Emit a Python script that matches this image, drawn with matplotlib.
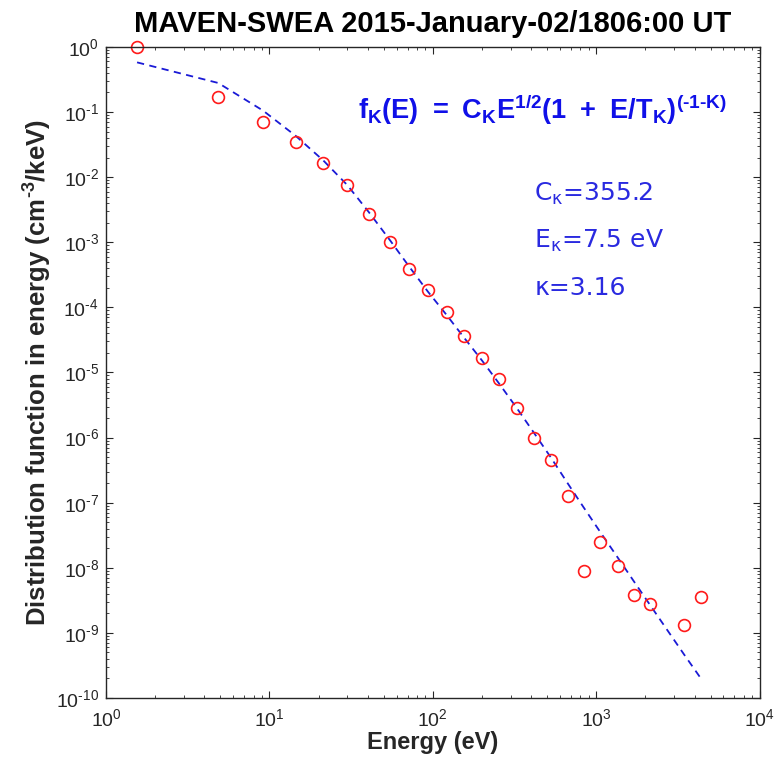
import numpy as np
import matplotlib
matplotlib.use('Agg')
from matplotlib import pyplot as plt
from matplotlib.ticker import LogLocator, NullFormatter, FuncFormatter

plt.rcParams['font.family'] = 'Liberation Sans'
plt.rcParams['axes.unicode_minus'] = False

# measured SWEA spectrum (red circles)
energy_ev = [1.55, 4.86, 9.16, 14.5, 21.4, 29.9, 40.6, 54.6, 71.8, 93.2, 121.6, 155.6,
             199, 255, 326, 414, 526, 667, 836, 1061, 1349, 1713, 2129, 3457, 4364]
dist_func = [1.0, 0.171, 0.0716, 0.0343, 0.0167, 0.00748, 0.00272, 0.00101, 3.93e-4,
             1.82e-4, 8.43e-5, 3.64e-5, 1.69e-5, 8.07e-6, 2.84e-6, 1.0e-6, 4.55e-7,
             1.26e-7, 9.0e-9, 2.52e-8, 1.07e-8, 3.77e-9, 2.77e-9, 1.30e-9, 3.52e-9]

# kappa fit (blue dashed line) read at the same energies
fit_vals = [0.58, 0.28, 0.105, 0.043, 0.018, 0.0076, 0.0029, 0.00108, 4.2e-4, 1.75e-4,
            7.6e-5, 3.4e-5, 1.55e-5, 6.7e-6, 2.85e-6, 1.2e-6, 5.0e-7, 2.0e-7, 8.5e-8,
            3.5e-8, 1.45e-8, 6.0e-9, 2.7e-9, 4.6e-10, 2.0e-10]

title = 'MAVEN-SWEA 2015-January-02/1806:00 UT'
params = [r'C$_{\mathregular{κ}}$=355.2', r'E$_{\mathregular{κ}}$=7.5 eV', 'κ=3.16']


def pow10(v, pos):
    e = int(round(np.log10(v)))
    return r'$\mathregular{10^{%s}}$' % str(e).replace('-', '‐')


txt = '#262626'
fig = plt.figure(figsize=(7.82, 7.60), dpi=100)
ax = fig.add_axes([0.1355, 0.0816, 0.836, 0.8566])

ax.plot(energy_ev, fit_vals, '--', color='#1a1ad6', lw=1.3, dashes=(4, 3))
ax.plot(energy_ev, dist_func, 'o', mfc='none', mec='#ff1a1a', mew=1.2, ms=8.5, clip_on=False)

ax.set_xscale('log')
ax.set_yscale('log')
ax.set_xlim(1, 1e4)
ax.set_ylim(1e-10, 1)
ax.xaxis.set_major_locator(LogLocator(base=10, numticks=10))
ax.yaxis.set_major_locator(LogLocator(base=10, numticks=20))
ax.xaxis.set_minor_locator(LogLocator(base=10, subs=np.arange(2, 10), numticks=20))
ax.yaxis.set_minor_locator(LogLocator(base=10, subs=np.arange(2, 10), numticks=20))
ax.xaxis.set_major_formatter(FuncFormatter(pow10))
ax.yaxis.set_major_formatter(FuncFormatter(pow10))
ax.xaxis.set_minor_formatter(NullFormatter())
ax.yaxis.set_minor_formatter(NullFormatter())
ax.tick_params(which='both', direction='in', top=True, right=True, colors=txt,
               labelsize=14, labelcolor=txt)
ax.tick_params(which='major', length=5, width=0.8)
ax.tick_params(which='minor', length=2.5, width=0.6)
ax.tick_params(axis='x', which='major', pad=7)
ax.tick_params(axis='y', which='major', pad=5)
for sp in ax.spines.values():
    sp.set_color(txt)
    sp.set_linewidth(1.0)

ax.set_xlabel('Energy (eV)', fontsize=17, fontweight='bold', color=txt, labelpad=1)
ax.set_ylabel(r'Distribution function in energy (cm$^{\mathregular{‐3}}$/keV)', fontsize=18.5,
              fontweight='bold', color=txt, labelpad=2)
ax.set_title(title, fontsize=21, fontweight='bold', pad=11)

ax.text(0.385, 0.89, r'$\mathregular{f_K(E)\ =\ C_KE^{1/2}(1\ +\ E/T_K)^{(‐1‐K)}}$',
        transform=ax.transAxes, fontsize=19.5, fontweight='bold', color='#1010e8')
for i, p in enumerate(params):
    ax.text(0.655, 0.775 - i * 0.073, p, transform=ax.transAxes, fontsize=18,
            family='DejaVu Sans', color='#2a2ae0', va='center')

fig.savefig('out.png', dpi=100)
